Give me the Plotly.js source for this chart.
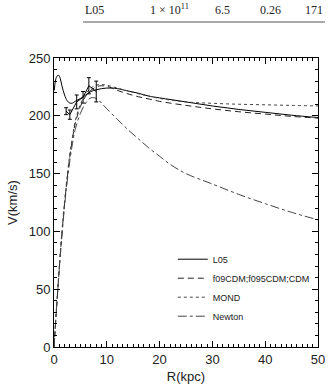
<!DOCTYPE html>
<html>
<head>
<meta charset="utf-8">
<script src="https://cdn.plot.ly/plotly-3.0.1.min.js"></script>
<style>html,body{margin:0;padding:0;background:#fff;}#chart{width:330px;height:384px;}</style>
</head>
<body>
<div id="chart"></div>
<script>
// L05 model
const rL05 = [0.05,0.3,0.6,0.9,1.2,1.5,2,2.5,3,3.5,4,5,6,7,8,9,10,11,12,14,16,18,20,25,30,35,40,45,50];
const vL05 = [222,231,234.5,235,232,226,218,213,211,211,212.5,215,218,221,222.5,223.5,224,224,223.5,221.5,219.5,217,215.5,212,208.5,205.5,203,200.5,198.5];
// CDM models
const rCDM = [0,0.5,1,1.5,2,2.5,3,3.5,4,5,6,7,8,9,10,11,12,14,16,18,20,25,30,35,40,45,50];
const vCDM = [0,35,68,98,124,146,165,180,193,208,217,222,225,226,225.5,224,222,219,216.5,214.5,212.5,209,206,203.5,201.5,199.5,198];
// MOND
const rMOND = [0,0.5,1,1.5,2,2.5,3,3.5,4,5,6,7,8,9,10,12,14,16,18,20,25,30,35,40,45,50];
const vMOND = [0,36,70,100,126,148,167,182,195,210,219,224,226.5,227,226.5,224,221.5,219,217,215,212,210.8,210,209.5,209,208.5];
// Newton
const rNewton = [0,0.5,1,1.5,2,2.5,3,3.5,4,5,6,7,8,9,10,12,14,16,18,20,22,25,30,35,40,45,50];
const vNewton = [0,35,67,96,122,143,161,176,188,202,211,215.5,215,211,206,197,188,180,172,165,158,150,141,132,124,116.5,110];
// observed points
const rObs = [2.3,3.0,4.3,5.5,6.6,8.0];
const vObs = [204,201,212,216,226,221];
const eObs = [3,4,6,5,7,9];

const names = ['L05','f09CDM;f095CDM;CDM','MOND','Newton'];
const headers = ['L05','1 × 10<sup>11</sup>','6.5','0.26','171'];
const headerX = [94,169,222,270,314];

const traces = [
  {x:rL05,y:vL05,mode:'lines',name:names[0],line:{color:'#000',width:1,dash:'solid',shape:'spline'}},
  {x:rCDM,y:vCDM,mode:'lines',name:names[1],line:{color:'#222',width:1,dash:'6px,4px',shape:'spline'}},
  {x:rMOND,y:vMOND,mode:'lines',name:names[2],line:{color:'#444',width:1,dash:'dot',shape:'spline'}},
  {x:rNewton,y:vNewton,mode:'lines',name:names[3],line:{color:'#444',width:1,dash:'dashdot',shape:'spline'}},
  {x:rObs,y:vObs,mode:'lines',showlegend:false,line:{color:'#000',width:1},
   error_y:{type:'data',array:eObs,visible:true,color:'#000',thickness:1,width:2}}
];

const annotations = headers.map((t,i)=>({
  xref:'paper',yref:'paper',x:(headerX[i]-54)/264,y:(347-10)/289,text:t,showarrow:false,
  xanchor:'center',yanchor:'middle',font:{family:'Liberation Serif',size:12,color:'#222'}
}));

const axisCommon = {
  showgrid:false,zeroline:false,showline:true,linecolor:'#000',linewidth:1,mirror:'ticks',
  ticks:'inside',ticklen:6,tickcolor:'#000',tickwidth:1,
  tickfont:{family:'Liberation Sans',size:13,color:'#222'}
};

const layout = {
  width:330,height:384,
  margin:{l:54,r:12,t:58,b:37},
  paper_bgcolor:'#fff',plot_bgcolor:'#fff',
  showlegend:true,
  legend:{x:0.45,y:0.354,xanchor:'left',yanchor:'top',bgcolor:'rgba(0,0,0,0)',
    font:{family:'Liberation Sans',size:9,color:'#222'},itemwidth:30,tracegroupgap:0},
  xaxis:Object.assign({},axisCommon,{range:[0,50],dtick:10,
    minor:{dtick:1,ticklen:3,ticks:'inside',tickcolor:'#000'},
    title:{text:'R(kpc)',font:{family:'Liberation Sans',size:13,color:'#222'},standoff:6}}),
  yaxis:Object.assign({},axisCommon,{range:[0,250],dtick:50,
    minor:{dtick:10,ticklen:3,ticks:'inside',tickcolor:'#000'},
    title:{text:'V(km/s)',font:{family:'Liberation Sans',size:13,color:'#222'},standoff:8}}),
  annotations:annotations,
  shapes:[{type:'line',xref:'paper',yref:'paper',x0:(83-54)/264,x1:(325-54)/264,
    y0:(347-22)/289,y1:(347-22)/289,line:{color:'#555',width:1}}]
};

Plotly.newPlot('chart',traces,layout,{staticPlot:true});
</script>
</body>
</html>
